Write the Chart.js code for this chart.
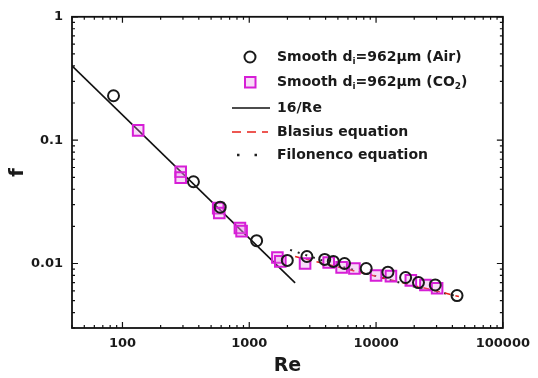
<!DOCTYPE html>
<html>
<head>
<meta charset="utf-8">
<script src="https://cdn.jsdelivr.net/npm/chart.js@4.4.0/dist/chart.umd.min.js"></script>
<style>
  html, body { margin: 0; padding: 0; background: #fff; }
</style>
</head>
<body>
<canvas id="myChart" width="538" height="378"></canvas>
<script>
// measured points, Re and Fanning friction factor f
const airRe = [85, 363, 590, 1143, 1995, 2850, 3935, 4600, 5640, 8360, 12400, 17100, 21600, 29300, 43500];
const airF = [0.229, 0.046, 0.0286, 0.0153, 0.0106, 0.0114, 0.0108, 0.0104, 0.0100, 0.0091, 0.0085, 0.0077, 0.0070, 0.0067, 0.0055];
const co2Re = [133, 288, 288, 569, 580, 844, 870, 1667, 1757, 2755, 4230, 5350, 6750, 10000, 13100, 18800, 24500, 30300];
const co2F = [0.12, 0.0555, 0.0497, 0.0281, 0.0257, 0.0194, 0.0183, 0.0112, 0.0104, 0.0100, 0.0102, 0.0093, 0.0091, 0.0080, 0.0079, 0.0073, 0.0067, 0.0063];

// correlation lines
const laminarRe = [40, 2300];
const laminarF = [0.4, 0.00696];
const blasiusRe = [2300, 45000];
const blasiusF = [0.0114, 0.0054];
const filonRe = [2100, 5000, 10000, 20000, 45000];
const filonF = [0.0129, 0.0096, 0.0079, 0.0065, 0.0054];

const xTicks = [100, 1000, 10000, 100000];
const xTickLabels = ['100', '1000', '10000', '100000'];
const yTicks = [1, 0.1, 0.01];
const yTickLabels = ['1', '0.1', '0.01'];

const FONT = '"DejaVu Sans", sans-serif';
Chart.defaults.font.family = FONT;
Chart.defaults.color = '#1a1a1a';

function pts(xs, ys) {
    return xs.map((x, i) => ({ x: x, y: ys[i] }));
}

// frame with inward ticks on all four sides
const framePlugin = {
    id: 'frame',
    afterDatasetsDraw(chart) {
        const ctx = chart.ctx;
        const a = chart.chartArea;
        const xs = chart.scales.x, ys = chart.scales.y;
        ctx.save();
        ctx.strokeStyle = '#111';
        ctx.lineWidth = 1.8;
        ctx.strokeRect(a.left, a.top, a.right - a.left, a.bottom - a.top);
        ctx.lineWidth = 1.2;
        ctx.beginPath();
        for (let e = -3; e <= 5; e++) {
            for (let m = 1; m <= 9; m++) {
                const v = m * Math.pow(10, e);
                const len = m === 1 ? 6 : 3;
                if (v >= xs.min && v <= xs.max) {
                    const px = xs.getPixelForValue(v);
                    ctx.moveTo(px, a.bottom); ctx.lineTo(px, a.bottom - len);
                    ctx.moveTo(px, a.top); ctx.lineTo(px, a.top + len);
                }
                if (v >= ys.min && v <= ys.max) {
                    const py = ys.getPixelForValue(v);
                    ctx.moveTo(a.left, py); ctx.lineTo(a.left + len, py);
                    ctx.moveTo(a.right, py); ctx.lineTo(a.right - len, py);
                }
            }
        }
        ctx.stroke();
        ctx.restore();
    }
};

// legend drawn inside the plot, with subscripts
const legendPlugin = {
    id: 'innerLegend',
    afterDraw(chart) {
        const ctx = chart.ctx;
        const tx = 277;
        const big = 'bold 14px ' + FONT;
        const small = 'bold 9px ' + FONT;
        ctx.save();
        ctx.textBaseline = 'middle';
        ctx.fillStyle = '#1a1a1a';

        function rich(parts, x, y) {
            parts.forEach(p => {
                ctx.font = p.sub ? small : big;
                ctx.fillText(p.t, x, y + (p.sub ? 5 : 0));
                x += ctx.measureText(p.t).width;
            });
        }

        // Air
        ctx.strokeStyle = '#1a1a1a';
        ctx.lineWidth = 2;
        ctx.beginPath(); ctx.arc(250, 57, 5.5, 0, Math.PI * 2); ctx.stroke();
        rich([{ t: 'Smooth d' }, { t: 'i', sub: true }, { t: '=962\u03bcm (Air)' }], tx, 57);

        // CO2
        ctx.strokeStyle = '#d61ed6';
        ctx.fillStyle = 'rgba(230,140,230,0.3)';
        ctx.lineWidth = 2;
        ctx.fillRect(245, 77, 10.5, 10.5);
        ctx.strokeRect(245, 77, 10.5, 10.5);
        ctx.fillStyle = '#1a1a1a';
        rich([{ t: 'Smooth d' }, { t: 'i', sub: true }, { t: '=962\u03bcm (CO' }, { t: '2', sub: true }, { t: ')' }], tx, 82);

        // 16/Re
        ctx.strokeStyle = '#111';
        ctx.lineWidth = 1.6;
        ctx.beginPath(); ctx.moveTo(232, 108); ctx.lineTo(270, 108); ctx.stroke();
        rich([{ t: '16/Re' }], tx, 108);

        // Blasius
        ctx.strokeStyle = '#e8201a';
        ctx.lineWidth = 1.6;
        ctx.setLineDash([9, 6]);
        ctx.beginPath(); ctx.moveTo(232, 132); ctx.lineTo(268, 132); ctx.stroke();
        rich([{ t: 'Blasius equation' }], tx, 132);

        // Filonenco
        ctx.strokeStyle = '#222';
        ctx.lineWidth = 2.5;
        ctx.setLineDash([2.5, 15]);
        ctx.beginPath(); ctx.moveTo(237, 155); ctx.lineTo(262, 155); ctx.stroke();
        ctx.setLineDash([]);
        rich([{ t: 'Filonenco equation' }], tx, 155);
        ctx.restore();
    }
};

new Chart('myChart', {
    type: 'scatter',
    data: {
        datasets: [{
            label: 'Air',
            data: pts(airRe, airF),
            pointStyle: 'circle',
            pointRadius: 5.5,
            pointBorderWidth: 2,
            pointBorderColor: '#1a1a1a',
            pointBackgroundColor: 'rgba(0,0,0,0)'
        },
        {
            label: 'CO2',
            data: pts(co2Re, co2F),
            pointStyle: 'rect',
            pointRadius: 7.5,
            pointBorderWidth: 2,
            pointBorderColor: '#d61ed6',
            pointBackgroundColor: 'rgba(230,140,230,0.3)'
        },
        {
            label: '16/Re',
            data: pts(laminarRe, laminarF),
            showLine: true,
            borderColor: '#111',
            borderWidth: 1.6,
            pointRadius: 0
        },
        {
            label: 'Blasius',
            data: pts(blasiusRe, blasiusF),
            showLine: true,
            borderColor: '#e8201a',
            borderWidth: 1.5,
            borderDash: [6, 5],
            pointRadius: 0
        },
        {
            label: 'Filonenco',
            data: pts(filonRe, filonF),
            showLine: true,
            borderColor: '#222',
            borderWidth: 2,
            borderDash: [2, 6],
            pointRadius: 0
        }]
    },
    options: {
        responsive: false,
        animation: false,
        layout: { padding: { top: 13, right: 30, left: 0, bottom: 0 } },
        plugins: {
            legend: { display: false },
            tooltip: { enabled: false }
        },
        scales: {
            x: {
                type: 'logarithmic',
                min: 40,
                max: 100000,
                grid: { display: false, drawTicks: false },
                border: { display: false },
                afterBuildTicks: s => { s.ticks = xTicks.map(v => ({ value: v })); },
                afterFit: s => { s.height = 50; },
                ticks: {
                    autoSkip: false,
                    maxRotation: 0,
                    padding: 8,
                    font: { size: 13, weight: 'bold' },
                    callback: (v, i) => xTickLabels[i]
                },
                title: {
                    display: true,
                    text: 'Re',
                    font: { size: 19, weight: 'bold' },
                    padding: { top: 0, bottom: 1 }
                }
            },
            y: {
                type: 'logarithmic',
                min: 0.003,
                max: 1,
                grid: { display: false, drawTicks: false },
                border: { display: false },
                afterBuildTicks: s => { s.ticks = yTicks.map(v => ({ value: v })); },
                afterFit: s => { s.width = 72; },
                ticks: {
                    autoSkip: false,
                    padding: 9,
                    font: { size: 13, weight: 'bold' },
                    callback: (v, i) => yTickLabels[i]
                },
                title: {
                    display: true,
                    text: 'f',
                    font: { size: 20, weight: 'bold' },
                    padding: { top: 6, bottom: 0 }
                }
            }
        }
    },
    plugins: [framePlugin, legendPlugin]
});
</script>
</body>
</html>
